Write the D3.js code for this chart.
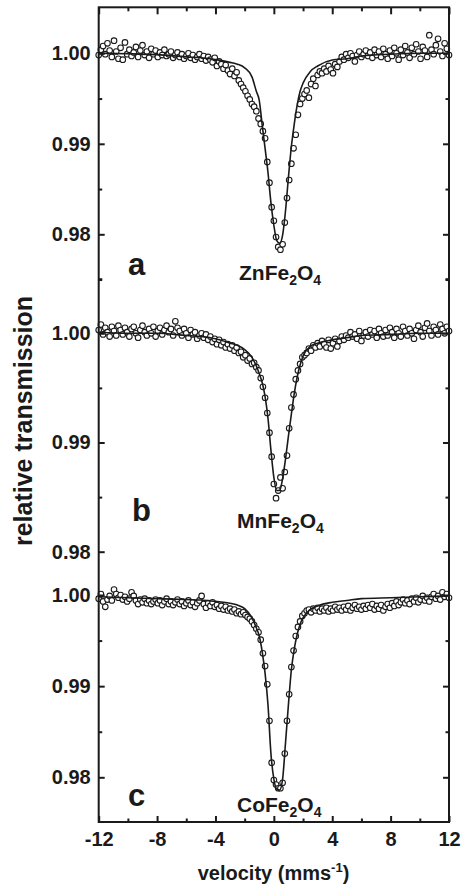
<!DOCTYPE html>
<html>
<head>
<meta charset="utf-8">
<script src="https://cdn.jsdelivr.net/npm/d3@7"></script>
<style>
  html, body { margin: 0; padding: 0; background: #fff; }
  svg { display: block; }
</style>
</head>
<body>
<svg id="chart" width="465" height="886"></svg>
<script>
// channel velocities (mm/s): start and step of the folded spectrum
var velStart = -12, velStep = 0.15;

// measured transmission, one value per channel (-12 ... 12)
var spectrumA = [
  0.9998, 1.0004, 1.0008, 0.9999, 1.0011, 1.0003, 0.9996, 1.0014, 1.0002, 0.9994,
  1.0006, 0.9993, 1.0012, 0.9999, 1.0004, 0.9997, 1.0001, 1.0007, 0.9996, 1.0003,
  1.0009, 0.9998, 1.0002, 0.9995, 1.0005, 0.9999, 1.0003, 0.9996, 1.0001, 0.9998,
  1.0004, 0.9997, 0.9999, 1.0002, 0.9995, 0.9998, 1.0001, 0.9996, 0.9999, 0.9994,
  0.9997, 1.0000, 0.9995, 0.9998, 0.9993, 0.9996, 0.9999, 0.9994, 0.9997, 0.9992,
  0.9996, 0.9993, 0.9990, 0.9995, 0.9986, 0.9991, 0.9988, 0.9983, 0.9987, 0.9981,
  0.9977, 0.9983, 0.9975, 0.9979, 0.9970, 0.9966, 0.9962, 0.9958, 0.9953, 0.9949,
  0.9944, 0.9941, 0.9936, 0.9928, 0.9922, 0.9914, 0.9906, 0.9880, 0.9857, 0.9830,
  0.9815, 0.9797, 0.9786, 0.9783, 0.9789, 0.9813, 0.9840, 0.9860, 0.9878, 0.9895,
  0.9910, 0.9932, 0.9944, 0.9950, 0.9955, 0.9959, 0.9951, 0.9966, 0.9972, 0.9964,
  0.9976, 0.9980, 0.9978, 0.9983, 0.9980, 0.9986, 0.9982, 0.9978, 0.9988, 0.9985,
  0.9991, 0.9996, 0.9993, 0.9999, 0.9995, 1.0000, 0.9997, 0.9991, 0.9998, 1.0002,
  0.9996, 0.9999, 1.0003, 0.9997, 1.0001, 0.9995, 1.0004, 0.9998, 1.0002, 0.9996,
  1.0005, 0.9999, 0.9994, 1.0003, 0.9997, 1.0006, 1.0000, 0.9993, 1.0004, 0.9998,
  1.0008, 1.0001, 0.9995, 1.0006, 0.9999, 1.0010, 1.0002, 0.9994, 1.0007, 1.0003,
  0.9996, 1.0020, 1.0004, 0.9999, 1.0009, 1.0016, 1.0002, 0.9997, 1.0011, 1.0005,
  0.9998
];

var spectrumB = [
  1.0003, 1.0008, 0.9999, 1.0005, 1.0001, 0.9997, 1.0006, 1.0002, 0.9998, 1.0007,
  1.0003, 0.9999, 1.0005, 1.0001, 0.9997, 1.0004, 1.0006, 1.0000, 0.9996, 1.0003,
  1.0007, 1.0001, 0.9998, 1.0004, 1.0000, 1.0006, 0.9997, 1.0002, 1.0005, 0.9999,
  1.0003, 1.0007, 1.0001, 1.0004, 0.9998, 1.0011, 1.0005, 1.0002, 0.9998, 1.0004,
  1.0000, 0.9996, 1.0003, 0.9999, 1.0001, 0.9995, 0.9998, 1.0000, 0.9996, 0.9999,
  0.9994, 0.9997, 0.9992, 0.9995, 0.9990, 0.9994, 0.9989, 0.9992, 0.9987, 0.9990,
  0.9986, 0.9989, 0.9984, 0.9987, 0.9982, 0.9983, 0.9978, 0.9980, 0.9975, 0.9977,
  0.9972, 0.9973, 0.9969, 0.9966, 0.9959, 0.9951, 0.9941, 0.9927, 0.9909, 0.9887,
  0.9862, 0.9849, 0.9856, 0.9868, 0.9858, 0.9873, 0.9888, 0.9913, 0.9932, 0.9944,
  0.9958, 0.9966, 0.9972, 0.9978, 0.9980, 0.9982, 0.9986, 0.9984, 0.9989, 0.9987,
  0.9991, 0.9988, 0.9993, 0.9990, 0.9987, 0.9994, 0.9986, 0.9991, 0.9995, 0.9988,
  0.9993, 0.9997, 0.9994, 0.9998, 0.9996, 1.0001, 0.9997, 0.9999, 0.9995, 1.0002,
  0.9993, 0.9998, 1.0001, 0.9997, 1.0003, 0.9999, 1.0002, 0.9996, 1.0004, 1.0000,
  0.9997, 1.0003, 0.9998, 1.0005, 1.0001, 0.9996, 1.0004, 1.0000, 0.9997, 1.0006,
  1.0002, 0.9998, 1.0004, 1.0000, 0.9995, 1.0003, 1.0007, 1.0001, 0.9997, 1.0005,
  1.0009, 1.0002, 0.9998, 1.0006, 1.0003, 0.9999, 1.0008, 1.0004, 1.0000, 1.0006,
  1.0002
];

var spectrumC = [
  0.9996, 1.0001, 0.9993, 0.9987, 0.9995, 0.9999, 0.9994, 1.0006, 1.0001, 0.9997,
  1.0000, 0.9995, 0.9998, 0.9993, 0.9996, 1.0003, 0.9999, 0.9994, 0.9990, 0.9995,
  0.9992, 0.9996, 0.9991, 0.9994, 0.9990, 0.9993, 0.9995, 0.9991, 0.9994, 0.9989,
  0.9993, 0.9996, 0.9990, 0.9993, 0.9989, 0.9992, 0.9995, 0.9990, 0.9993, 0.9988,
  0.9991, 0.9994, 0.9989, 0.9992, 0.9987, 0.9991, 0.9994, 0.9999, 0.9990, 0.9986,
  0.9991, 0.9988, 0.9992, 0.9987, 0.9989, 0.9985, 0.9988, 0.9984, 0.9987, 0.9983,
  0.9985, 0.9982, 0.9984, 0.9980, 0.9982, 0.9979, 0.9981, 0.9978, 0.9976, 0.9974,
  0.9971, 0.9967, 0.9963, 0.9959, 0.9951, 0.9936, 0.9922, 0.9902, 0.9862, 0.9816,
  0.9797, 0.9792, 0.9788, 0.9788, 0.9794, 0.9826, 0.9862, 0.9891, 0.9921, 0.9939,
  0.9955, 0.9965, 0.9971, 0.9977, 0.9980, 0.9983, 0.9984, 0.9981, 0.9985, 0.9983,
  0.9986, 0.9982, 0.9985, 0.9983, 0.9986, 0.9982, 0.9985, 0.9983, 0.9987, 0.9984,
  0.9986, 0.9983, 0.9987, 0.9984, 0.9988, 0.9983, 0.9986, 0.9989, 0.9985, 0.9987,
  0.9984, 0.9988, 0.9985, 0.9989, 0.9986, 0.9990, 0.9984, 0.9988, 0.9985, 0.9989,
  0.9983, 0.9987, 0.9990, 0.9986, 0.9991, 0.9988, 0.9993, 0.9989, 0.9992, 0.9995,
  0.9991, 0.9994, 0.9990, 0.9996, 0.9993, 0.9997, 0.9992, 0.9995, 0.9999, 0.9994,
  0.9997, 0.9993, 0.9998, 1.0001, 0.9996, 0.9999, 0.9995, 1.0003, 0.9998, 1.0001,
  0.9997
];

// fitted curves, read at these velocities
var fitVelocity = [-12, -10, -8, -6, -5, -4, -3, -2.5, -2, -1.5, -1.2, -1, -0.8, -0.6, -0.4, -0.2,
  0, 0.2, 0.4, 0.6, 0.8, 1, 1.2, 1.4, 1.6, 1.8, 2, 2.5, 3, 4, 5, 6, 8, 10, 12];
var fitA = [1.0000, 0.99995, 0.99985, 0.9996, 0.9995, 0.9993, 0.9990, 0.9988, 0.9984, 0.9974, 0.9958,
  0.9948, 0.9921, 0.9895, 0.9868, 0.9835, 0.9810, 0.9793, 0.9790, 0.9799, 0.9826, 0.9863, 0.9897,
  0.9922, 0.9943, 0.9958, 0.9967, 0.9980, 0.9986, 0.99925, 0.9994, 0.9997, 0.9999, 1.0000, 1.0000];
var fitB = [1.0001, 1.0000, 1.0000, 0.9998, 0.9997, 0.9995, 0.9991, 0.9989, 0.9985, 0.9978, 0.9970,
  0.9963, 0.9955, 0.9942, 0.9922, 0.9893, 0.9868, 0.9856, 0.9856, 0.9867, 0.9885, 0.9906, 0.9926,
  0.9945, 0.9960, 0.9971, 0.9979, 0.9988, 0.9991, 0.9994, 0.9996, 0.9998, 0.9999, 1.0000, 1.0000];
var fitC = [0.9998, 0.9997, 0.9996, 0.9995, 0.99945, 0.9993, 0.9991, 0.9989, 0.9985, 0.9975, 0.9964,
  0.9955, 0.9938, 0.9914, 0.9879, 0.9826, 0.9798, 0.9787, 0.9786, 0.9798, 0.9838, 0.9880, 0.9918,
  0.9941, 0.9957, 0.9968, 0.9975, 0.9984, 0.9988, 0.9992, 0.9994, 0.9996, 0.9997, 0.9998, 0.9999];

// ticks and labels
var xTicksMajor = [-12, -8, -4, 0, 4, 8, 12];
var xTicksMinor = [-10, -6, -2, 2, 6, 10];
var yTicksMajor = [1.00, 0.99, 0.98];
var yTicksMinorA = [0.995, 0.985, 0.975];
var yTicksMinorB = [1.005, 0.995, 0.985];
var yTicksMinorC = [0.995, 0.985];
var panelLetters = ['a', 'b', 'c'];
var compounds = ['ZnFe2O4', 'MnFe2O4', 'CoFe2O4'];

var font = '"Liberation Sans", Arial, Helvetica, sans-serif';
var ink = '#1a1a1a';

var plotLeft = 98.7, plotRight = 449, plotTop = 7.3, plotBottom = 822;

var svg = d3.select('#chart');

var x = d3.scaleLinear().domain([-12, 12]).range([plotLeft, plotRight]);

var panels = [
  { data: spectrumA, fit: fitA, minor: yTicksMinorA, y: d3.scaleLinear().domain([0.98, 1.00]).range([234.3, 53.3]),
    letterAt: [128, 275], nameAt: [239, 280] },
  { data: spectrumB, fit: fitB, minor: yTicksMinorB, y: d3.scaleLinear().domain([0.98, 1.00]).range([551.7, 333.3]),
    letterAt: [132, 521], nameAt: [237, 528] },
  { data: spectrumC, fit: fitC, minor: yTicksMinorC, y: d3.scaleLinear().domain([0.98, 1.00]).range([777.3, 595]),
    letterAt: [128, 806], nameAt: [237, 812] }
];

var styleAxis = function(g) {
  g.select('.domain').remove();
  g.attr('font-family', font).attr('font-weight', 'bold').attr('font-size', 20).attr('color', ink);
  g.selectAll('line').attr('stroke-width', 2);
};

var plain = function(d) { return String(d); };

panels.forEach(function(p, k) {
  var pts = p.data.map(function(t, i) { return { v: velStart + i * velStep, t: t }; });

  svg.append('g')
    .selectAll('circle')
    .data(pts)
    .enter()
    .append('circle')
    .attr('cx', function(d) { return x(d.v); })
    .attr('cy', function(d) { return p.y(d.t); })
    .attr('r', 2.8)
    .attr('fill', '#fff')
    .attr('stroke', ink)
    .attr('stroke-width', 1.1);

  var line = d3.line()
    .x(function(d, i) { return x(fitVelocity[i]); })
    .y(function(d) { return p.y(d); })
    .curve(d3.curveMonotoneX);

  svg.append('path')
    .attr('d', line(p.fit))
    .attr('fill', 'none')
    .attr('stroke', ink)
    .attr('stroke-width', 1.6);

  // left axis
  svg.append('g')
    .attr('transform', 'translate(' + plotLeft + ',0)')
    .call(d3.axisLeft(p.y).tickValues(yTicksMajor).tickSize(-6).tickPadding(8).tickFormat(d3.format('.2f')))
    .call(styleAxis);
  svg.append('g')
    .attr('transform', 'translate(' + plotLeft + ',0)')
    .call(d3.axisLeft(p.y).tickValues(p.minor).tickSize(-3.5).tickFormat(''))
    .call(styleAxis);

  // right axis
  svg.append('g')
    .attr('transform', 'translate(' + plotRight + ',0)')
    .call(d3.axisRight(p.y).tickValues(yTicksMajor).tickSize(-6).tickFormat(''))
    .call(styleAxis);
  svg.append('g')
    .attr('transform', 'translate(' + plotRight + ',0)')
    .call(d3.axisRight(p.y).tickValues(p.minor).tickSize(-3.5).tickFormat(''))
    .call(styleAxis);

  svg.append('text')
    .attr('x', p.letterAt[0])
    .attr('y', p.letterAt[1])
    .attr('font-family', font)
    .attr('font-weight', 'bold')
    .attr('font-size', 31)
    .attr('fill', ink)
    .text(panelLetters[k]);

  var name = svg.append('text')
    .attr('x', p.nameAt[0])
    .attr('y', p.nameAt[1])
    .attr('font-family', font)
    .attr('font-weight', 'bold')
    .attr('font-size', 21)
    .attr('fill', ink);
  var shifted = false;
  compounds[k].match(/[A-Za-z]+|\d+/g).forEach(function(part) {
    var isSub = /\d/.test(part);
    var ts = name.append('tspan').text(part);
    if (isSub) {
      ts.attr('font-size', 14).attr('dy', 5);
      shifted = true;
    } else if (shifted) {
      ts.attr('dy', -5);
      shifted = false;
    }
  });
});

// bottom and top axes
svg.append('g')
  .attr('transform', 'translate(0,' + plotBottom + ')')
  .call(d3.axisBottom(x).tickValues(xTicksMajor).tickSize(-6).tickPadding(10).tickFormat(plain))
  .call(styleAxis);
svg.append('g')
  .attr('transform', 'translate(0,' + plotBottom + ')')
  .call(d3.axisBottom(x).tickValues(xTicksMinor).tickSize(-3.5).tickFormat(''))
  .call(styleAxis);
svg.append('g')
  .attr('transform', 'translate(0,' + plotTop + ')')
  .call(d3.axisTop(x).tickValues(xTicksMajor).tickSize(-7).tickFormat(''))
  .call(styleAxis);
svg.append('g')
  .attr('transform', 'translate(0,' + plotTop + ')')
  .call(d3.axisTop(x).tickValues(xTicksMinor).tickSize(-4).tickFormat(''))
  .call(styleAxis);

// frame
svg.append('rect')
  .attr('x', plotLeft)
  .attr('y', plotTop)
  .attr('width', plotRight - plotLeft)
  .attr('height', plotBottom - plotTop)
  .attr('fill', 'none')
  .attr('stroke', ink)
  .attr('stroke-width', 2);

// axis titles
svg.append('text')
  .attr('transform', 'translate(32,421) rotate(-90)')
  .attr('text-anchor', 'middle')
  .attr('font-family', font)
  .attr('font-weight', 'bold')
  .attr('font-size', 25)
  .attr('fill', ink)
  .text('relative transmission');

var xt = svg.append('text')
  .attr('x', 273.5)
  .attr('y', 880)
  .attr('text-anchor', 'middle')
  .attr('font-family', font)
  .attr('font-weight', 'bold')
  .attr('font-size', 20)
  .attr('fill', ink);
xt.append('tspan').text('velocity (mms');
xt.append('tspan').attr('font-size', 13).attr('dy', -8).text('-1');
xt.append('tspan').attr('dy', 8).text(')');
</script>
</body>
</html>
